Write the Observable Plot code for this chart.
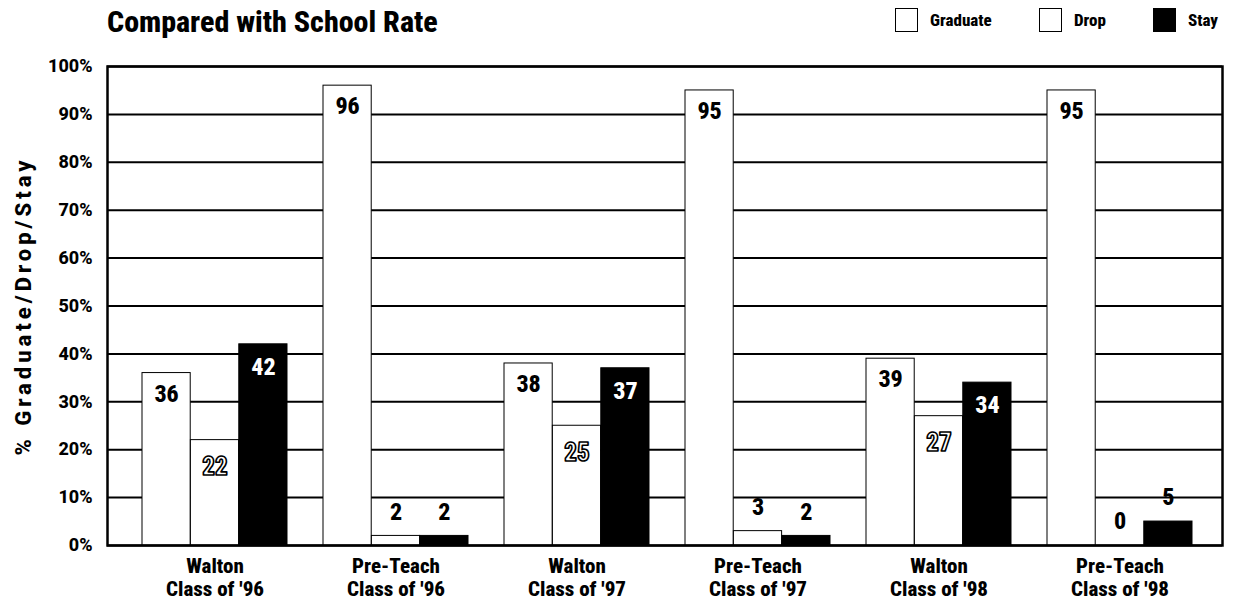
<!DOCTYPE html>
<html>
<head>
<meta charset="utf-8">
<script src="https://cdn.jsdelivr.net/npm/d3@7"></script>
<script src="https://cdn.jsdelivr.net/npm/@observablehq/plot@0.6"></script>
<style>
  body { margin: 0; background: #fff; font-family: Roboto, sans-serif; font-stretch: 75%; font-weight: 800; }
  #header { position: relative; height: 45px; width: 1233px; }
  #title { position: absolute; left: 107px; top: 7px; font-size: 30px; line-height: 1; white-space: nowrap; }
  .lg { position: absolute; top: 8px; display: flex; align-items: center; font-size: 17px; line-height: 24px; }
  .sw { width: 23px; height: 24px; border: 1px solid #000; box-sizing: border-box; margin-right: 12px; }
  #chart svg [aria-label="y-axis tick label"], #chart svg [aria-label="y-axis"] { font-stretch: 100%; font-size: 18px; }
  #chart svg [aria-label="y-axis label"], #chart svg [aria-label="y-axis"] .label { font-stretch: 100%; font-size: 22px; letter-spacing: 4px; }
</style>
</head>
<body>
<div id="header">
  <div id="title">Compared with School Rate</div>
  <div class="lg" style="left:895px"><div class="sw" style="background:#fff"></div>Graduate</div>
  <div class="lg" style="left:1039px"><div class="sw" style="background:#fff"></div>Drop</div>
  <div class="lg" style="left:1153px"><div class="sw" style="background:#000"></div>Stay</div>
</div>
<div id="chart"></div>
<script>
const schools = ["Walton", "Pre-Teach", "Walton", "Pre-Teach", "Walton", "Pre-Teach"];
const classes = ["Class of '96", "Class of '96", "Class of '97", "Class of '97", "Class of '98", "Class of '98"];
const series = ["Graduate", "Drop", "Stay"];
const graduate = [36, 96, 38, 95, 39, 95];
const drop = [22, 2, 25, 3, 27, 0];
const stay = [42, 2, 37, 2, 34, 5];
const yTicks = [0, 10, 20, 30, 40, 50, 60, 70, 80, 90, 100];
const yLabel = "% Graduate/Drop/Stay";

const groups = schools.map((s, i) => s + "|" + classes[i]);
const valuesBySeries = [graduate, drop, stay];
const rows = groups.flatMap((g, i) => series.map((s, j) => ({group: g, series: s, value: valuesBySeries[j][i]})));
const groupRows = groups.map((g, i) => ({group: g, school: schools[i], cls: classes[i]}));

// layout of the grouped bars inside each band of the x scale
const W = 1233, H = 569, ML = 107, MR = 11, MT = 21, MB = 69;
const PI = 0.2, PO = 0.172;
const step = (W - ML - MR) / (groups.length - PI + 2 * PO);
const third = step * (1 - PI) / series.length;
const insetL = {Graduate: 0, Drop: third, Stay: 2 * third};
const insetR = {Graduate: 2 * third, Drop: third, Stay: 0};
const shift = {Graduate: -third, Drop: 0, Stay: third};
const fillOf = {Graduate: "white", Drop: "white", Stay: "black"};

const font = "Roboto, sans-serif";
const big = d => d.value >= 10;

const barMarks = series.map(s => Plot.barY(rows.filter(d => d.series === s), {
  x: "group", y: "value", fill: fillOf[s], stroke: "black", strokeWidth: 1,
  insetLeft: insetL[s], insetRight: insetR[s]
}));

const labelMarks = [
  Plot.text(rows.filter(d => big(d) && d.series === "Graduate"), {x: "group", y: "value", text: "value", dx: shift.Graduate, dy: 21, fill: "black", fontSize: 24}),
  Plot.text(rows.filter(d => big(d) && d.series === "Drop"), {x: "group", y: "value", text: "value", dx: shift.Drop, dy: 27, fill: "white", stroke: "black", strokeWidth: 1.6, paintOrder: "normal", fontSize: 25}),
  Plot.text(rows.filter(d => big(d) && d.series === "Stay"), {x: "group", y: "value", text: "value", dx: shift.Stay, dy: 23, fill: "white", fontSize: 24}),
  ...["Drop", "Stay"].map(s => Plot.text(rows.filter(d => !big(d) && d.series === s), {x: "group", y: "value", text: "value", dx: shift[s], dy: -24, fill: "black", fontSize: 24}))
];

const chart = Plot.plot({
  width: W,
  height: H,
  marginTop: MT,
  marginBottom: MB,
  marginLeft: ML,
  marginRight: MR,
  style: {fontFamily: font, fontWeight: "800", fontSize: "17px", fontStretch: "75%", color: "black", background: "white"},
  x: {domain: groups, paddingInner: PI, paddingOuter: PO, align: 0.53, axis: null},
  y: {domain: [0, 100], ticks: yTicks, tickFormat: d => d + "%", tickSize: 0, tickPadding: 15,
      label: yLabel, labelAnchor: "center", labelOffset: 92, labelArrow: "none"},
  marks: [
    Plot.ruleY(yTicks, {stroke: "black", strokeWidth: 2}),
    ...barMarks,
    Plot.frame({stroke: "black", strokeWidth: 2.5}),
    ...labelMarks,
    Plot.text(groupRows, {x: "group", text: "school", frameAnchor: "bottom", dy: 27, fontSize: 21, fill: "black"}),
    Plot.text(groupRows, {x: "group", text: "cls", frameAnchor: "bottom", dy: 50, fontSize: 21, fill: "black"})
  ]
});
document.getElementById("chart").appendChild(chart);
</script>
</body>
</html>
